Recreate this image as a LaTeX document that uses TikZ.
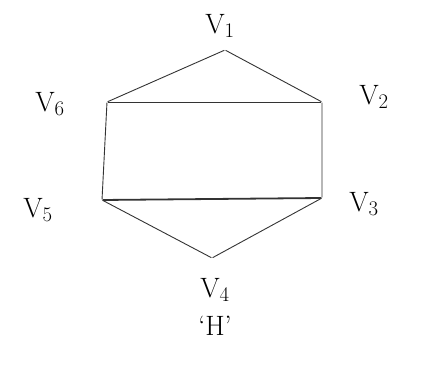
\documentclass[tikz,border=0pt]{standalone}
\tikzset{
  vtx/.style={circle,inner sep=0pt,minimum size=1pt},
  lbl/.style={inner sep=0pt,font=\fontsize{28}{28}\selectfont},
  edge/.style={draw=black!80,line width=0.9pt}
}
\begin{document}
\begin{tikzpicture}[x=1pt,y=-1pt]
\useasboundingbox (0,0) rectangle (421,390);
\node[vtx] (v1) at (225,50) {};
\node[vtx] (v2) at (322,102) {};
\node[vtx] (v3) at (322,198) {};
\node[vtx] (v4) at (212,258) {};
\node[vtx] (v5) at (102,200) {};
\node[vtx] (v6) at (107,102) {};
\node[lbl] (l1) at (220,26) {V$_1$};
\node[lbl] (l2) at (374,97) {V$_2$};
\node[lbl] (l3) at (364,204) {V$_3$};
\node[lbl] (l4) at (215,290) {V$_4$};
\node[lbl] (l5) at (38,210) {V$_5$};
\node[lbl] (l6) at (50,104) {V$_6$};
\node[lbl] (h) at (215,326) {`H'};
\draw[edge] (v1) -- (v2) -- (v3) -- (v4) -- (v5) -- (v6) -- (v1);
\draw[edge] (v6) -- (v2);
\draw[edge,line width=1.8pt] (v5) -- (v3);
\end{tikzpicture}
\end{document}
